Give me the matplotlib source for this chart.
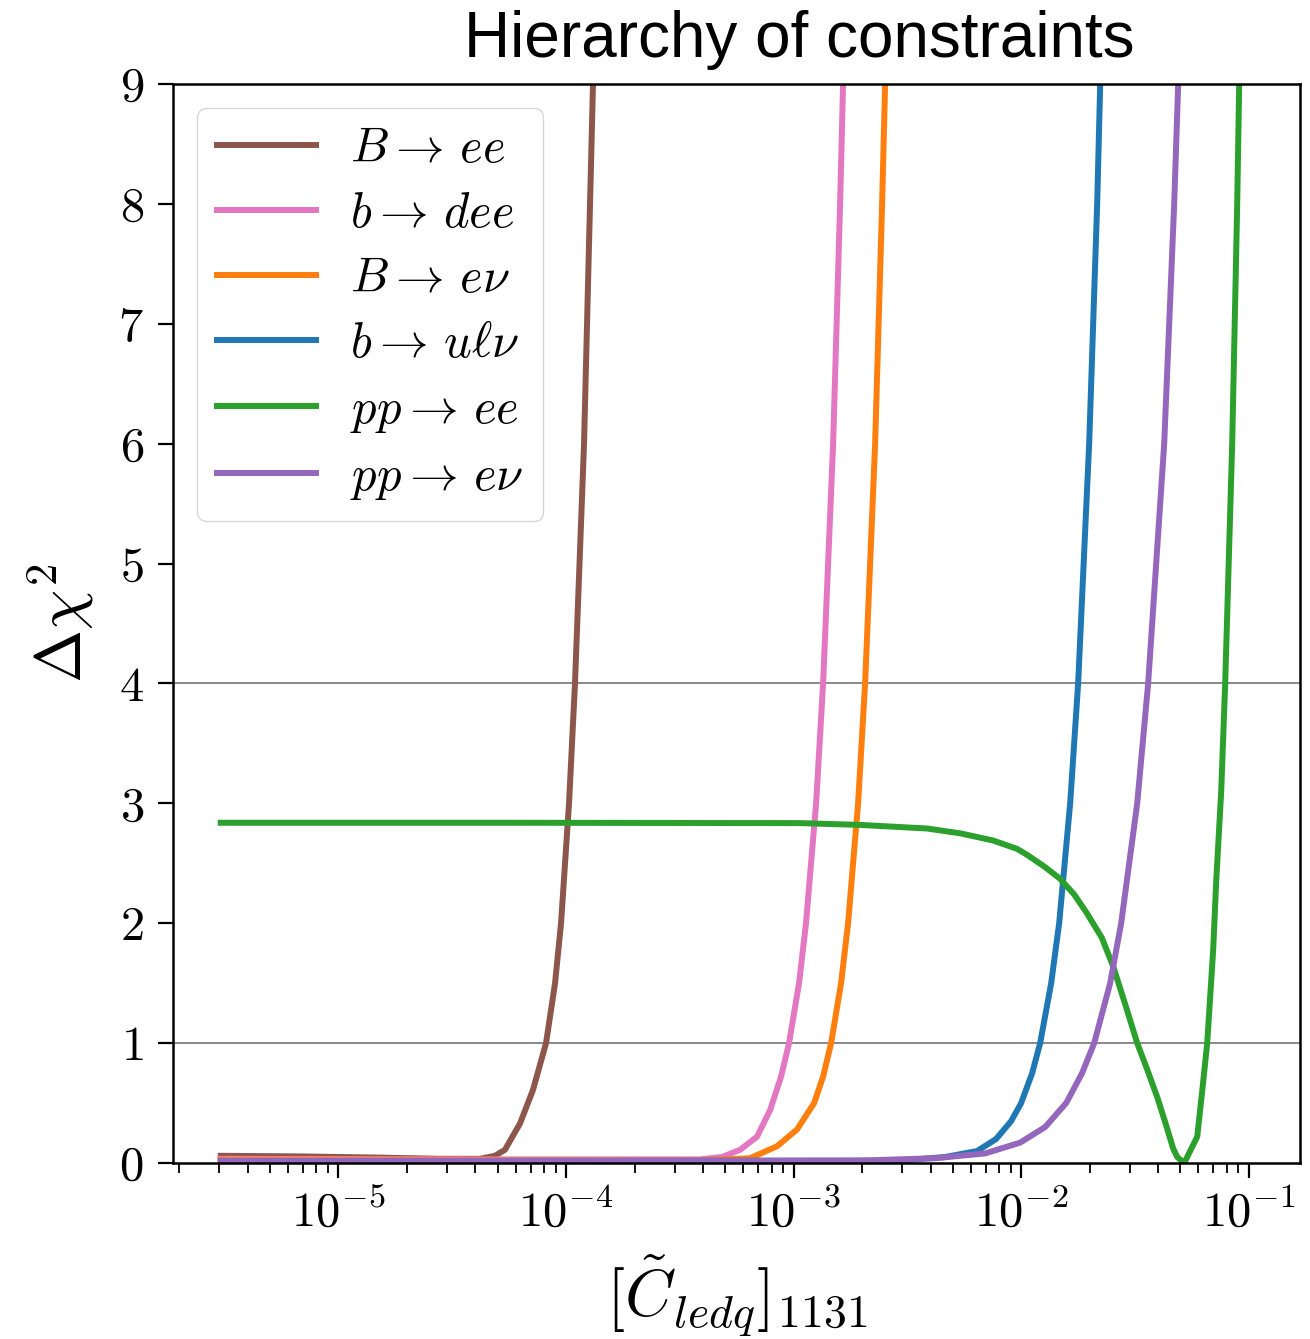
import matplotlib
matplotlib.use("Agg")
import numpy as np
import matplotlib.pyplot as plt

plt.rcParams["font.family"] = "serif"
plt.rcParams["font.serif"] = ["cmr10"]
plt.rcParams["mathtext.fontset"] = "cm"
plt.rcParams["axes.formatter.use_mathtext"] = True

# values
B_ee_C = [3.04e-6, 6.77e-6, 1.52e-5, 2.79e-5, 4.19e-5, 4.87e-5, 5.39e-5, 6.28e-5, 7.16e-5,
          8.17e-5, 8.95e-5, 9.51e-5, 1.031e-4, 1.095e-4, 1.200e-4, 1.275e-4, 1.314e-4,
          1.341e-4]
B_ee_y = [0.06, 0.055, 0.045, 0.035, 0.035, 0.06, 0.11, 0.33, 0.61,
          1.0, 1.5, 2.0, 3.0, 4.0, 6.0, 8.0, 9.0,
          10.0]

b_dee_C = [3.04e-6, 5.45e-5, 3.88e-4, 4.85e-4, 5.82e-4, 6.91e-4, 7.88e-4, 8.81e-4, 9.55e-4,
           1.057e-3, 1.134e-3, 1.256e-3, 1.348e-3, 1.492e-3, 1.601e-3, 1.650e-3, 1.701e-3]
b_dee_y = [0.035, 0.03, 0.03, 0.05, 0.11, 0.22, 0.44, 0.72, 1.0,
           1.5, 2.0, 3.0, 4.0, 6.0, 8.0, 9.0, 10.0]

B_enu_C = [3.04e-6, 3.88e-4, 6.44e-4, 8.46e-4, 1.036e-3, 1.231e-3, 1.348e-3, 1.462e-3, 1.617e-3,
           1.736e-3, 1.921e-3, 2.062e-3, 2.282e-3, 2.449e-3, 2.525e-3, 2.602e-3]
B_enu_y = [0.025, 0.02, 0.04, 0.14, 0.28, 0.5, 0.72, 1.0, 1.5,
           2.0, 3.0, 4.0, 6.0, 8.0, 9.0, 10.0]

b_ulnu_C = [3.04e-6, 2.938e-3, 4.63e-3, 6.41e-3, 7.76e-3, 9.04e-3, 1.000e-2, 1.118e-2, 1.212e-2,
            1.355e-2, 1.469e-2, 1.642e-2, 1.780e-2, 1.990e-2, 2.158e-2, 2.225e-2, 2.293e-2]
b_ulnu_y = [0.015, 0.02, 0.05, 0.1, 0.2, 0.35, 0.5, 0.75, 1.0,
            1.5, 2.0, 3.0, 4.0, 6.0, 8.0, 9.0, 10.0]

pp_ee_C = [3.04e-6, 5.45e-5, 1.068e-3, 1.960e-3, 3.862e-3, 5.394e-3, 7.53e-3, 9.60e-3, 1.063e-2,
           1.27e-2, 1.484e-2, 1.71e-2, 1.950e-2, 2.26e-2, 2.538e-2, 2.87e-2, 3.236e-2,
           3.58e-2, 3.962e-2, 4.36e-2, 4.657e-2, 4.849e-2, 5.205e-2, 5.53e-2, 5.94e-2,
           6.245e-2, 6.57e-2, 6.98e-2, 7.20e-2, 7.57e-2, 7.88e-2, 8.46e-2, 8.90e-2,
           9.08e-2, 9.30e-2]
pp_ee_y = [2.838, 2.838, 2.835, 2.82, 2.79, 2.75, 2.69, 2.62, 2.57,
           2.47, 2.37, 2.24, 2.08, 1.88, 1.64, 1.32, 1.0,
           0.78, 0.55, 0.3, 0.12, 0.05, 0.0, 0.1, 0.22,
           0.6, 1.0, 1.78, 2.36, 3.1, 4.0, 6.0, 8.0,
           9.0, 10.0]

pp_enu_C = [3.04e-6, 1.960e-3, 4.19e-3, 6.95e-3, 9.90e-3, 1.275e-2, 1.577e-2, 1.853e-2, 2.094e-2,
            2.461e-2, 2.751e-2, 3.236e-2, 3.615e-2, 4.252e-2, 4.704e-2, 4.899e-2, 5.153e-2]
pp_enu_y = [0.015, 0.02, 0.04, 0.08, 0.17, 0.3, 0.5, 0.75, 1.0,
            1.5, 2.0, 3.0, 4.0, 6.0, 8.0, 9.0, 10.0]

labels = [r"$B \to\, ee$", r"$b \to\, dee$", r"$B \to\, e\nu$",
          r"$b \to\, u\ell\nu$", r"$pp \to\, ee$", r"$pp \to\, e\nu$"]
colors = ["tab:brown", "tab:pink", "tab:orange", "tab:blue", "tab:green", "tab:purple"]
series = [(B_ee_C, B_ee_y), (b_dee_C, b_dee_y), (B_enu_C, B_enu_y),
          (b_ulnu_C, b_ulnu_y), (pp_ee_C, pp_ee_y), (pp_enu_C, pp_enu_y)]

fig = plt.figure(figsize=(13.1, 13.39), dpi=100)
ax = fig.add_axes([173 / 1310, 1 - 1163 / 1339, 1127 / 1310, 1079 / 1339])

ax.axhline(1, color="grey", lw=1.3, zorder=1)
ax.axhline(4, color="grey", lw=1.3, zorder=1)

for (cx, cy), lab, col in zip(series, labels, colors):
    ax.plot(cx, cy, color=col, lw=4.3, label=lab, zorder=2)

ax.set_xscale("log")
ax.set_xlim(1.875e-6, 0.168)
ax.set_ylim(0, 9)
ax.set_yticks(range(10))

for s in ax.spines.values():
    s.set_linewidth(1.8)
ax.tick_params(axis="both", which="major", length=11, width=1.6, labelsize=35)
ax.tick_params(axis="x", which="minor", length=7, width=1.3)
ax.tick_params(axis="x", which="major", pad=8)
ax.tick_params(axis="y", which="major", pad=10)

ax.set_xlabel(r"$[\tilde{C}_{ledq}]_{1131}$", fontsize=47, labelpad=12)
ax.set_ylabel(r"$\Delta\chi^2$", fontsize=46, labelpad=16)

ax.legend(loc="upper left", fontsize=35, handlelength=2.05, labelspacing=0.43,
          handletextpad=0.7, borderaxespad=0.5, framealpha=0.8)

fig.text(799 / 1310, 1 - 40 / 1339, "Hierarchy of constraints",
         family="Liberation Sans", fontsize=46, ha="center", va="center")

fig.savefig("out.png", dpi=100)
